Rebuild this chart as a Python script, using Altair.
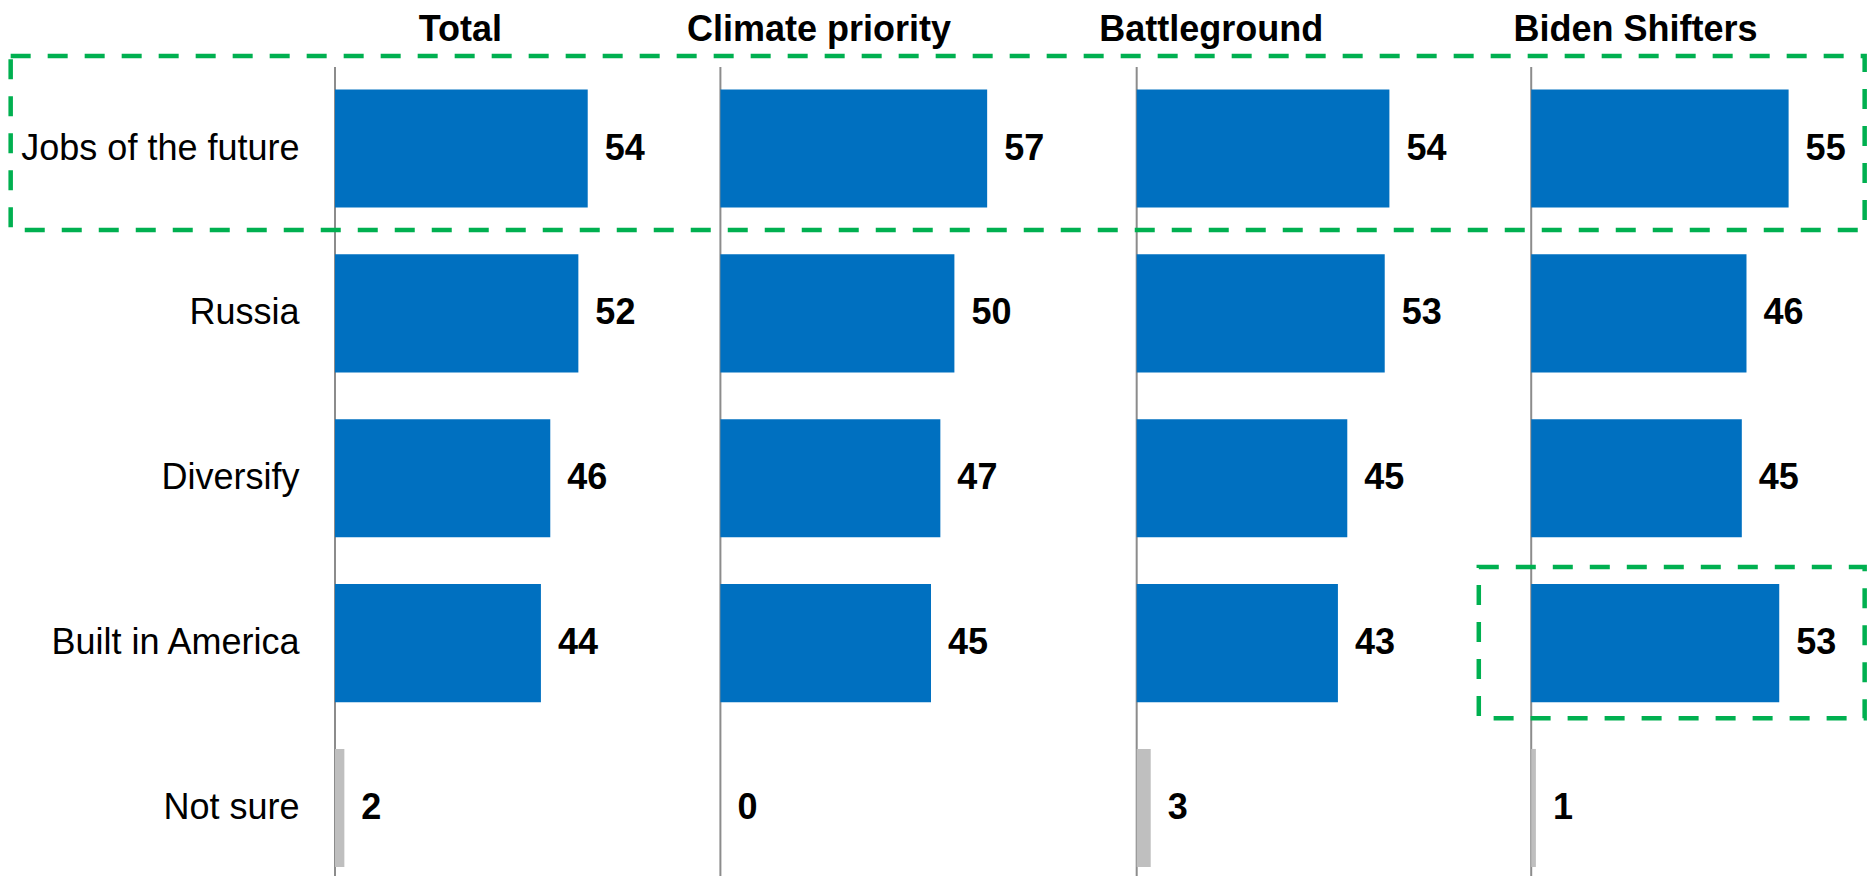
import json
import altair as alt
import pandas as pd

# ---- data ----
CATEGORIES = ["Jobs of the future", "Russia", "Diversify", "Built in America", "Not sure"]
GROUPS = ["Total", "Climate priority", "Battleground", "Biden Shifters"]
TOTAL = [54, 52, 46, 44, 2]
CLIMATE = [57, 50, 47, 45, 0]
BATTLEGROUND = [54, 53, 45, 43, 3]
BIDEN = [55, 46, 45, 53, 1]

# ---- layout (value units on the shared x scale) ----
PANEL_OFFSETS = [0, 82.35, 171.3, 255.6]
TITLE_POS = [26.7, 103.3, 187.1, 277.8]
X_MAX = 327.35
FONT = "Arial, Liberation Sans, sans-serif"
BLUE = "#0070C0"
GREY = "#BFBFBF"
GREEN = "#00B050"

rows = []
for g, off, vals in zip(GROUPS, PANEL_OFFSETS, [TOTAL, CLIMATE, BATTLEGROUND, BIDEN]):
    for c, v in zip(CATEGORIES, vals):
        rows.append({
            "group": g, "category": c, "value": v,
            "start": off, "end": off + v,
            "kind": "unsure" if c == "Not sure" else "main",
        })
df = pd.DataFrame(rows)
rules_df = pd.DataFrame({"offset": PANEL_OFFSETS})
hl1 = pd.DataFrame({"category": ["Jobs of the future"], "start": [-69.3], "end": [X_MAX - 0.5]})
hl2 = pd.DataFrame({"category": ["Built in America"], "start": [244.4], "end": [X_MAX - 0.5]})

XSCALE = alt.Scale(domain=[0, X_MAX], nice=False, zero=False)
YSCALE = alt.Scale(domain=CATEGORIES, paddingInner=0.284, paddingOuter=0.0956, align=0.714)

label_expr = f"{json.dumps(GROUPS)}[indexof({json.dumps(TITLE_POS)}, datum.value)]"
XAX = alt.Axis(orient="top", values=TITLE_POS, labelExpr=label_expr, title=None,
               domain=False, ticks=False, tickSize=0, grid=False,
               labelFontSize=36, labelFontWeight="bold", labelFont=FONT, labelColor="black",
               labelPadding=27, labelBaseline="alphabetic", labelAngle=0,
               labelOverlap=False, labelFlush=False, labelBound=False, labelLimit=600)
YAX = alt.Axis(title=None, domain=False, ticks=False, tickSize=0, grid=False,
               labelFontSize=36, labelFont=FONT, labelColor="black",
               labelPadding=36, labelLimit=500)

Y = alt.Y("category:N", sort=CATEGORIES, scale=YSCALE, axis=YAX)

rules = alt.Chart(rules_df).mark_rule(color="#8C8C8C", strokeWidth=2).encode(
    x=alt.X("offset:Q", scale=XSCALE, axis=XAX)
)

bars = alt.Chart(df).mark_bar().encode(
    x=alt.X("start:Q", scale=XSCALE, axis=XAX),
    x2="end:Q",
    y=Y,
    color=alt.Color("kind:N", scale=alt.Scale(domain=["main", "unsure"], range=[BLUE, GREY]), legend=None),
)

labels = alt.Chart(df).mark_text(
    align="left", baseline="middle", dx=17, fontSize=36, fontWeight="bold", font=FONT, color="black"
).encode(
    x=alt.X("end:Q", scale=XSCALE, axis=XAX),
    y=Y,
    text=alt.Text("value:Q"),
)

def highlight(data, band, yoff):
    return alt.Chart(data).mark_bar(
        fillOpacity=0, stroke=GREEN, strokeWidth=4.5, strokeDash=[20, 17],
        height=alt.RelativeBandSize(band=band), yOffset=yoff,
    ).encode(
        x=alt.X("start:Q", scale=XSCALE, axis=XAX),
        x2="end:Q",
        y=Y,
    )

chart = alt.layer(
    rules, bars, labels, highlight(hl1, 1.475, -5.5), highlight(hl2, 1.28, -0.5)
).properties(
    width=1532, height=809,
    padding={"left": 327, "top": 59, "right": 0, "bottom": 0},
    autosize=alt.AutoSizeParams(type="none"),
    background="white",
).configure_view(stroke=None)

chart.save("out.html", embed_options={"renderer": "svg", "actions": False})
